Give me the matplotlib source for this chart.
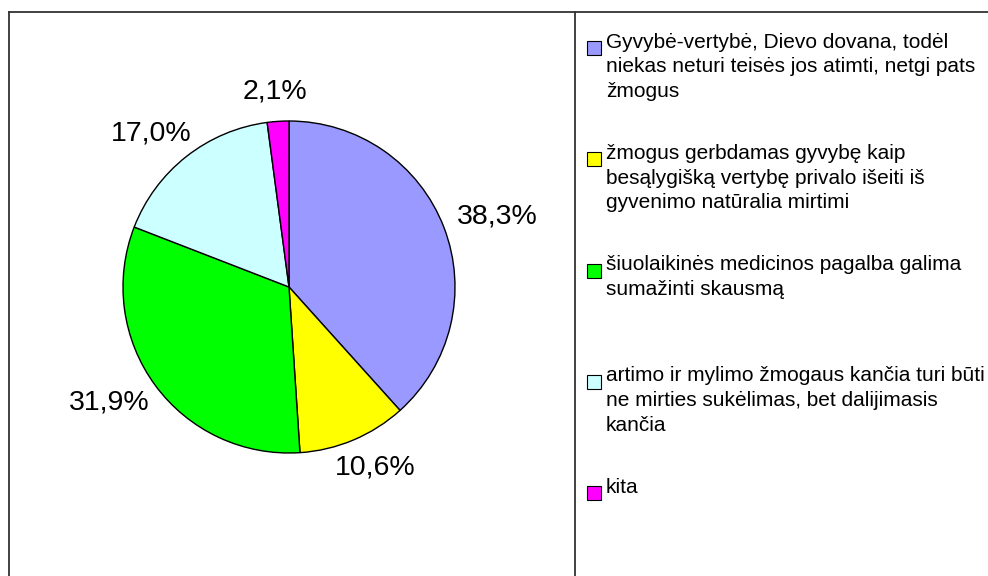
import numpy as np
import matplotlib
matplotlib.use("Agg")
import matplotlib.pyplot as plt
from matplotlib.patches import Rectangle
from matplotlib.lines import Line2D
from matplotlib.transforms import offset_copy

plt.rcParams["font.family"] = ["Liberation Sans", "DejaVu Sans"]

# data
categories = [
    "Gyvybė-vertybė, Dievo dovana, todėl\nniekas neturi teisės jos atimti, netgi pats\nžmogus",
    "žmogus gerbdamas gyvybę kaip\nbesąlygišką vertybę privalo išeiti iš\ngyvenimo natūralia mirtimi",
    "šiuolaikinės medicinos pagalba galima\nsumažinti skausmą",
    "artimo ir mylimo žmogaus kančia turi būti\nne mirties sukėlimas, bet dalijimasis\nkančia",
    "kita",
]
values = [38.3, 10.6, 31.9, 17.0, 2.1]
colors = ["#9999FF", "#FFFF00", "#00FF00", "#CCFFFF", "#FF00FF"]

W, H = 988, 576
fig = plt.figure(figsize=(W / 100, H / 100), dpi=100)
fig.patch.set_facecolor("white")


def fx(px):
    return px / W


def fy(py):
    return 1 - py / H


# chart frame: outer border and separator before the legend
frame = dict(color="#333333", linewidth=1.3, transform=fig.transFigure)
fig.add_artist(Line2D([fx(9), fx(988)], [fy(12), fy(12)], **frame))
fig.add_artist(Line2D([fx(9), fx(9)], [fy(12), fy(576)], **frame))
fig.add_artist(Line2D([fx(575), fx(575)], [fy(12), fy(576)], **frame))

# pie
cx, cy, r = 289, 287, 166
ax = fig.add_axes([fx(cx - r), fy(cy + r), 2 * r / W, 2 * r / H])
wedges, _ = ax.pie(values, colors=colors, startangle=90, counterclock=False,
                   wedgeprops=dict(edgecolor="black", linewidth=1.0))
ax.set_xlim(-1, 1)
ax.set_ylim(-1, 1)
ax.set_aspect("equal")
ax.axis("off")

# data labels: box pushed outward from a point just outside the rim
renderer = fig.canvas.get_renderer()
for w, v in zip(wedges, values):
    ang = np.deg2rad((w.theta1 + w.theta2) / 2)
    c, s = np.cos(ang), np.sin(ang)
    t = ax.text(1.10 * c, 1.10 * s, ("%.1f%%" % v).replace(".", ","),
                fontsize=20.5, ha="center", va="center", color="black")
    bb = t.get_window_extent(renderer)
    t.set_transform(offset_copy(ax.transData, fig=fig, units="dots",
                                x=bb.width / 2 * c, y=bb.height / 2 * s))

# legend drawn by hand: Excel spaces entries evenly
y0, step, sq = 48, 111.3, 14
for i, (lab, col) in enumerate(zip(categories, colors)):
    yc = y0 + i * step
    fig.add_artist(Rectangle((fx(587), fy(yc + sq / 2)), sq / W, sq / H,
                             facecolor=col, edgecolor="black", linewidth=0.8,
                             transform=fig.transFigure))
    fig.text(fx(606), fy(yc - 15.5), lab, fontsize=15, va="top", ha="left",
             linespacing=1.39, color="black")

fig.savefig("out.png", dpi=100)
